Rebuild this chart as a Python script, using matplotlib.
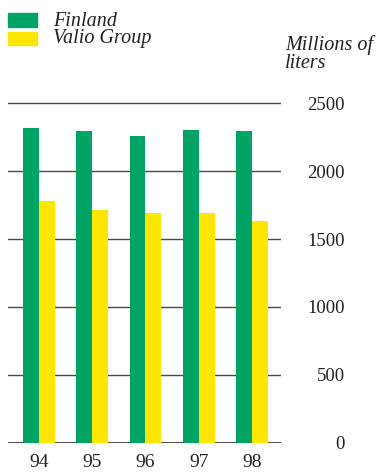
import matplotlib
matplotlib.use("Agg")
from matplotlib import pyplot as plt
from matplotlib.patches import Rectangle
import numpy as np

years = ["94", "95", "96", "97", "98"]
finland = [2317, 2295, 2258, 2303, 2295]
valio_group = [1780, 1714, 1692, 1692, 1635]
y_ticks = [0, 500, 1000, 1500, 2000, 2500]

GREEN = "#00a464"
YELLOW = "#ffe600"
GRID = "#4d4848"
TEXT = "#222222"
SERIF = ["Liberation Serif", "DejaVu Serif"]
W, H = 377, 474

fig = plt.figure(figsize=(W / 100, H / 100), dpi=100)
ax = fig.add_axes([8 / W, 31.3 / H, 273 / W, 2600 * 0.1358 / H])

x = np.arange(len(years))
w = 0.3
ax.bar(x - w / 2, finland, w, color=GREEN, zorder=2)
ax.bar(x + w / 2, valio_group, w, color=YELLOW, zorder=2)

ax.set_xlim(-0.582, 4.545)
ax.set_ylim(0, 2600)
for t in y_ticks:
    ax.axhline(t, color=GRID, lw=1.0 if t else 1.4, zorder=1)

for s in ax.spines.values():
    s.set_visible(False)

ax.set_xticks(x)
ax.set_xticklabels(years, family=SERIF, fontsize=14, color=TEXT)
ax.tick_params(axis="x", length=0, pad=8)

ax.yaxis.tick_right()
ax.set_yticks(y_ticks)
ax.set_yticklabels([str(t) for t in y_ticks], family=SERIF, fontsize=13.5,
                   color=TEXT)
ax.tick_params(axis="y", length=0, pad=46)
for lbl in ax.get_yticklabels():
    lbl.set_ha("right")

# unit label above the right-hand scale
fig.text(285 / W, 1 - 35 / H, "Millions of\nliters", family=SERIF,
         style="italic", fontsize=14.5, color=TEXT, va="top", ha="left",
         linespacing=0.95)

# legend swatches and labels
for (top, bottom), color, label, base in [
    ((13, 27), GREEN, "Finland", 26),
    ((32, 45), YELLOW, "Valio Group", 43.5),
]:
    fig.patches.append(Rectangle((8 / W, 1 - bottom / H), 29 / W,
                                 (bottom - top) / H, color=color,
                                 transform=fig.transFigure, figure=fig))
    fig.text(53 / W, 1 - base / H, label, family=SERIF, style="italic",
             fontsize=14.5, color=TEXT, va="baseline", ha="left")

fig.savefig("out.png", dpi=100)
